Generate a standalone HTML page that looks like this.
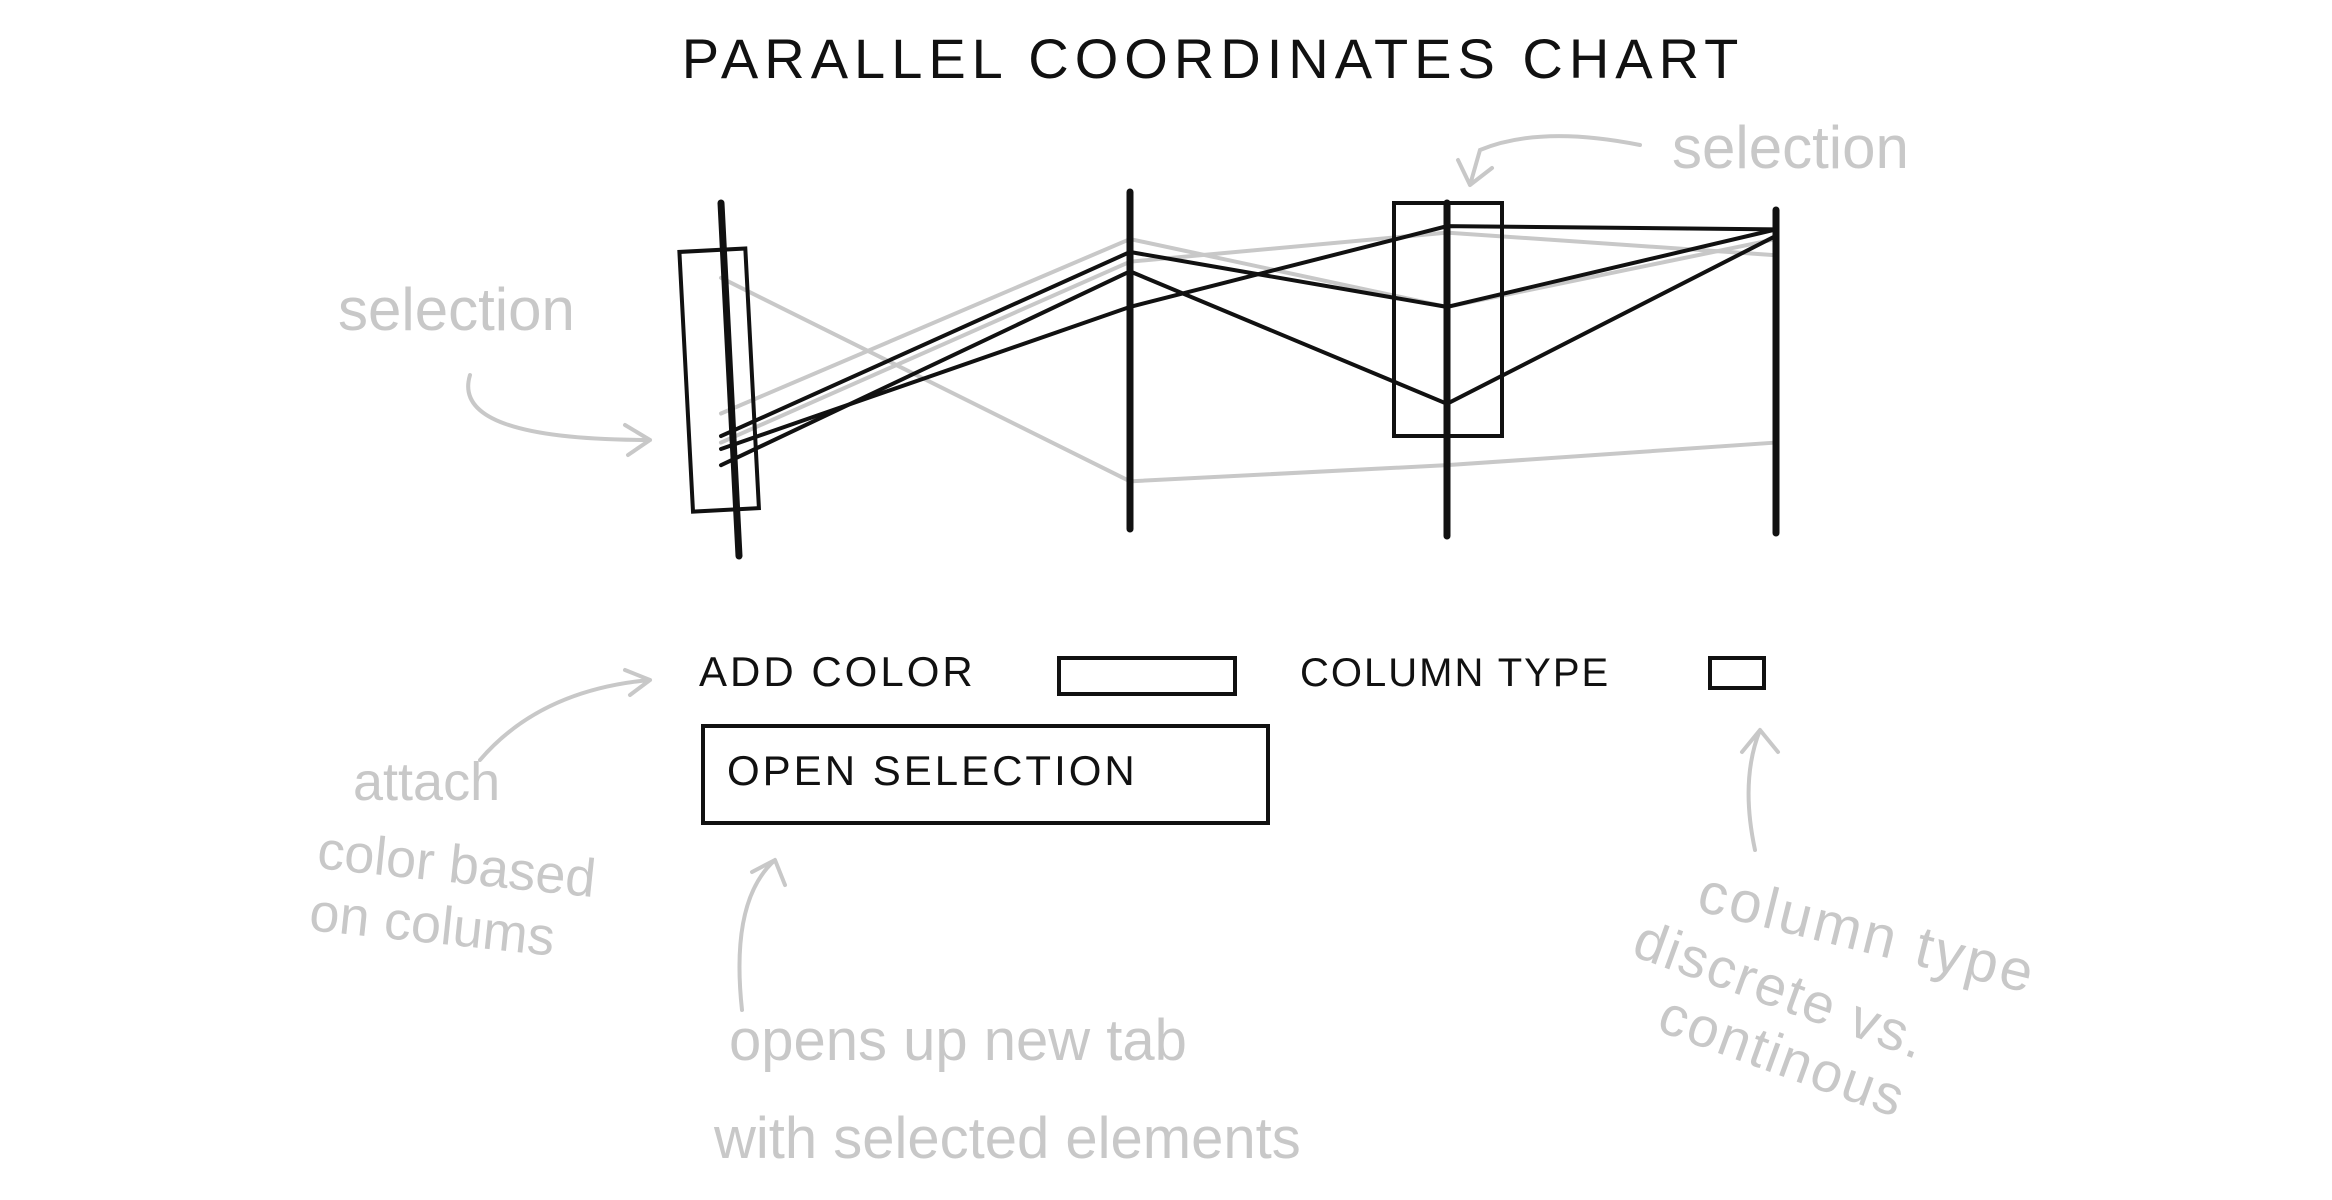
<!DOCTYPE html>
<html><head><meta charset="utf-8"><style>
html,body{margin:0;padding:0;background:#fff;}
svg{display:block;}
.t{font-family:"Liberation Sans",sans-serif;}
</style></head><body>
<svg width="2332" height="1200" viewBox="0 0 2332 1200">
<text class="t" x="1213" y="78" font-size="56" text-anchor="middle" letter-spacing="6" fill="#111">PARALLEL  COORDINATES  CHART</text>
<g id="plot"></g>
<rect x="686" y="250" width="66" height="260" fill="none" stroke="#111" stroke-width="4" transform="rotate(-3 720 377)"/>
<rect x="1394" y="203" width="108" height="233" fill="none" stroke="#111" stroke-width="4"/>
<g fill="#c8c8c8" class="t" font-size="60">
<text x="1672" y="168">selection</text>
<text x="338" y="330">selection</text>
<text x="353" y="800" font-size="54">attach</text>
<text x="316" y="868" font-size="54" transform="rotate(6 316 868)">color based</text>
<text x="308" y="930" font-size="54" transform="rotate(6 308 930)">on colums</text>
<text x="729" y="1060" font-size="58">opens up new tab</text>
<text x="714" y="1158" font-size="58">with selected elements</text>
<text x="1695" y="910" font-size="58" letter-spacing="3" transform="rotate(14 1695 910)">column  type</text>
<text x="1630" y="955" font-size="56" letter-spacing="2" transform="rotate(20 1630 955)">discrete  vs.</text>
<text x="1655" y="1030" font-size="56" letter-spacing="2" transform="rotate(20 1655 1030)">continous</text>
</g>
<g fill="none" stroke="#c8c8c8" stroke-width="4" stroke-linecap="round">
<path d="M1640 145 Q1540 125 1480 150 L1470 185 M1470 185 L1458 160 M1470 185 L1492 168"/>
<path d="M470 375 Q450 440 650 440 M650 440 L625 425 M650 440 L628 455"/>
<path d="M480 760 Q540 690 650 680 M650 680 L625 670 M650 680 L630 695"/>
<path d="M742 1010 Q730 900 775 860 M775 860 L752 872 M775 860 L785 885"/>
<path d="M1755 850 Q1740 780 1760 730 M1760 730 L1742 752 M1760 730 L1778 752"/>
</g>
<text class="t" x="699" y="686" font-size="42" letter-spacing="3" fill="#111">ADD  COLOR</text>
<rect x="1059" y="658" width="176" height="36" fill="none" stroke="#111" stroke-width="4"/>
<text class="t" x="1300" y="686" font-size="40" letter-spacing="2" fill="#111">COLUMN TYPE</text>
<rect x="1710" y="658" width="54" height="30" fill="none" stroke="#111" stroke-width="4"/>
<rect x="703" y="726" width="565" height="97" fill="none" stroke="#111" stroke-width="4"/>
<text class="t" x="727" y="785" font-size="42" letter-spacing="3" fill="#111">OPEN SELECTION</text>
</svg>
<script>
const axisNames=["a1","a2","a3","a4"];
const blackLine1=[30,87,70,94];
const blackLine2=[21,81,40,92];
const blackLine3=[26,70,95,94];
const grayLine1=[79,16,21,28];
const grayLine2=[28,84,93,86];
const grayLine3=[37,91,70,91];
const blackSeries=[blackLine1,blackLine2,blackLine3];
const graySeries=[grayLine1,grayLine2,grayLine3];
const NS="http://www.w3.org/2000/svg";
const g=document.getElementById("plot");
const axX=[721,1130,1447,1776];
const yTop=210,yBot=533;
function xs(i){return axX[i];}
function ys(v){return yTop+(100-v)/100*(yBot-yTop);}
function drawLine(vals,color,w,name){
  const p=document.createElementNS(NS,"polyline");
  p.setAttribute("points",vals.map((v,i)=>xs(i)+","+ys(v)).join(" "));
  p.setAttribute("fill","none");p.setAttribute("stroke",color);p.setAttribute("stroke-width",w);
  p.setAttribute("stroke-linecap","round");
  
  
  g.appendChild(p);
}
graySeries.forEach((s,i)=>drawLine(s,"#c8c8c8",4,"gray-line-"+(i+1)));
blackSeries.forEach((s,i)=>drawLine(s,"#111",4,"black-line-"+(i+1)));
const tops=[203,192,203,210],bots=[556,529,536,533];
axisNames.forEach((n,i)=>{
  const l=document.createElementNS(NS,"line");
  l.setAttribute("x1",xs(i));l.setAttribute("x2",xs(i)+(i==0?18:0));
  l.setAttribute("y1",tops[i]);l.setAttribute("y2",bots[i]);
  l.setAttribute("stroke","#111");l.setAttribute("stroke-width",7);l.setAttribute("stroke-linecap","round");
  
  
  g.appendChild(l);
});
</script>
</body></html>
